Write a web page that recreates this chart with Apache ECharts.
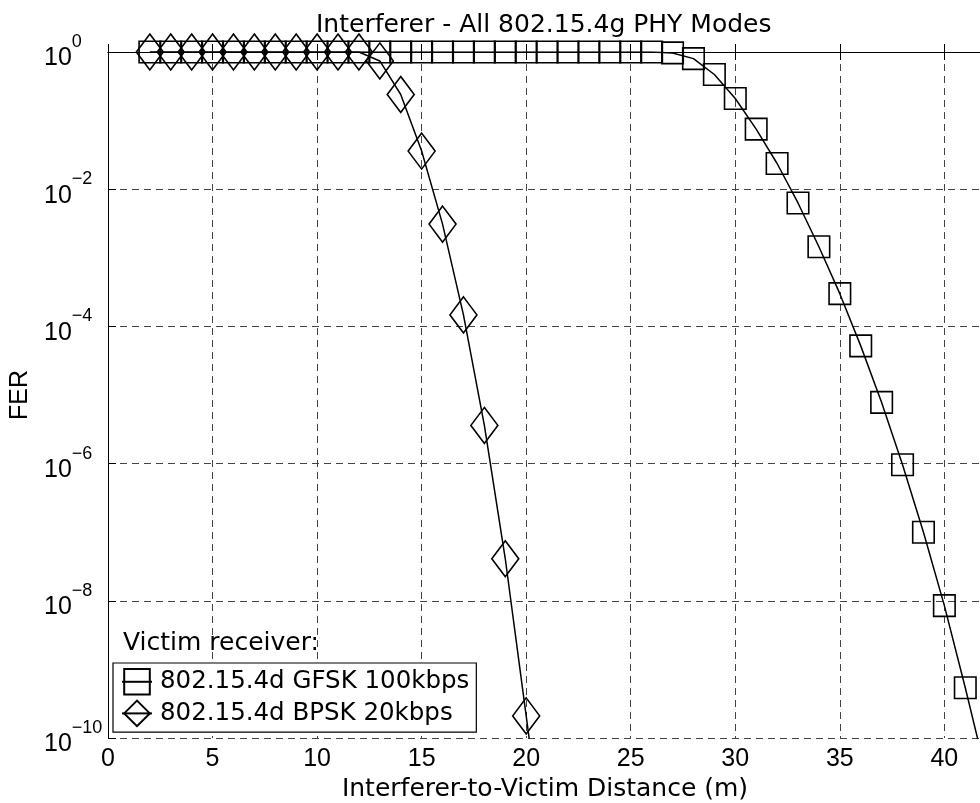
<!DOCTYPE html>
<html>
<head>
<meta charset="utf-8">
<script src="https://cdn.jsdelivr.net/npm/echarts@6/dist/echarts.min.js"></script>
<style>
html,body{margin:0;padding:0;background:#fff;}
#chart{width:980px;height:803px;}
</style>
</head>
<body>
<div id="chart"></div>
<script>
// Interferer-to-victim distance (m)
const gfskDist = [2,3,4,5,6,7,8,9,10,11,12,13,14,15,16,17,18,19,20,21,22,23,24,25,26,27,28,29,30,31,32,33,34,35,36,37,38,39,40,41,42];
const gfskFER  = [1,1,1,1,1,1,1,1,1,1,1,1,1,1,1,1,1,1,1,1,1,1,1,1,1,0.97,0.80,0.47,0.21,0.075,0.0237,6.3e-3,1.45e-3,3.0e-4,5.2e-5,7.8e-6,9.6e-7,1.0e-7,8.5e-9,5.4e-10,3e-11];
const bpskDist = [2,3,4,5,6,7,8,9,10,11,12,13,14,15,16,17,18,19,20,21];
const bpskFER  = [1,1,1,1,1,1,1,1,1,1,1,0.74,0.24,0.036,3.1e-3,1.47e-4,3.6e-6,4.1e-8,2.1e-10,1e-12];
const xTicks = [0,5,10,15,20,25,30,35,40];
const yTickExponents = [0,-2,-4,-6,-8,-10];
const seriesNames = ['802.15.4d GFSK 100kbps','802.15.4d BPSK 20kbps'];

const toPts = (xs, ys) => xs.map((x, i) => [x, Math.log10(ys[i])]);

const FONT = 'DejaVu Sans';
const TICKFONT = 'Liberation Sans';

const chart = echarts.init(document.getElementById('chart'), null, {renderer: 'canvas'});
const axisCommon = {
  type: 'value',
  axisLine: {show: true, lineStyle: {color: '#000', width: 1}},
  axisTick: {show: true, inside: true, length: 8, lineStyle: {color: '#000', width: 1}},
};
chart.setOption({
  animation: false,
  backgroundColor: '#fff',
  title: [
    {text: 'Interferer - All 802.15.4g PHY Modes', left: 316, top: 13, padding: 0,
     textStyle: {fontFamily: FONT, fontSize: 25, fontWeight: 'normal', color: '#000'}},
    {text: 'Victim receiver:', left: 123, top: 631, padding: 0,
     textStyle: {fontFamily: FONT, fontSize: 25, fontWeight: 'normal', color: '#000'}}
  ],
  grid: {left: 108, right: -2, top: 52, bottom: 65, containLabel: false, outerBoundsMode: 'none'},
  legend: {
    orient: 'vertical', left: 113, top: 663,
    padding: [5, 7, 5, 8], itemGap: 4, itemWidth: 30, itemHeight: 32,
    borderColor: '#000', borderWidth: 1.2, backgroundColor: '#fff',
    textStyle: {fontFamily: FONT, fontSize: 24.5, color: '#000', padding: [0, 0, 0, 3]},
    data: seriesNames
  },
  xAxis: [
    Object.assign({}, axisCommon, {
      min: 0, max: 41.8, interval: 5, position: 'bottom',
      name: 'Interferer-to-Victim Distance (m)', nameLocation: 'middle', nameGap: 34,
      nameTextStyle: {fontFamily: FONT, fontSize: 25, color: '#000'},
      axisLabel: {margin: 9, fontFamily: TICKFONT, fontSize: 25, color: '#000',
        formatter: v => xTicks.indexOf(v) >= 0 ? String(v) : ''},
      splitLine: {show: true, lineStyle: {color: '#444', width: 1, type: [7, 5]}}
    }),
    Object.assign({}, axisCommon, {
      min: 0, max: 41.8, interval: 5, position: 'top',
      axisLabel: {show: false}, splitLine: {show: false}
    })
  ],
  yAxis: Object.assign({}, axisCommon, {
    min: -10, max: 0, interval: 2,
    name: 'FER', nameLocation: 'middle', nameGap: 67,
    nameTextStyle: {fontFamily: TICKFONT, fontSize: 25, color: '#000'},
    axisLabel: {
      margin: 64, align: 'left',
      formatter: v => yTickExponents.indexOf(v) >= 0 ? '{b|10}{e|' + (v === 0 ? '0' : '\u2212' + (-v)) + '}' : '',
      rich: {
        b: {fontFamily: TICKFONT, fontSize: 25, color: '#000', lineHeight: 38, verticalAlign: 'bottom'},
        e: {fontFamily: TICKFONT, fontSize: 18, color: '#000', lineHeight: 18, verticalAlign: 'top'}
      }
    },
    splitLine: {show: true, lineStyle: {color: '#444', width: 1, type: [7, 5]}}
  }),
  series: [
    {
      name: seriesNames[0], type: 'line', data: toPts(gfskDist, gfskFER),
      symbol: 'rect', symbolSize: 21.5, showSymbol: true, showAllSymbol: true,
      lineStyle: {color: '#000', width: 1.5},
      itemStyle: {color: 'rgba(0,0,0,0)', borderColor: '#000', borderWidth: 1.6},
      clip: true, z: 2
    },
    {
      name: seriesNames[1], type: 'line', data: toPts(bpskDist, bpskFER),
      symbol: 'diamond', symbolSize: [27, 36], showSymbol: true, showAllSymbol: true,
      lineStyle: {color: '#000', width: 1.5},
      itemStyle: {color: 'rgba(0,0,0,0)', borderColor: '#000', borderWidth: 1.6},
      clip: true, z: 3
    }
  ]
});
</script>
</body>
</html>
